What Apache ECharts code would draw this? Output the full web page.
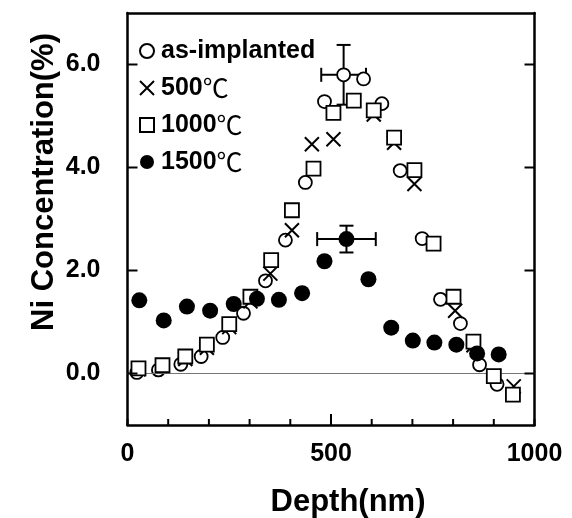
<!DOCTYPE html>
<html>
<head>
<meta charset="utf-8">
<script src="https://cdn.jsdelivr.net/npm/echarts@6/dist/echarts.min.js"></script>
<style>html,body{margin:0;padding:0;background:#fff}#chart{width:572px;height:518px}</style>
</head>
<body>
<div id="chart"></div>
<script>
// ---- data ----
const seriesNames = ['as-implanted', '500℃', '1000℃', '1500℃'];
const depthAsImpl = [23, 76, 131, 181, 234, 285, 339, 388, 437, 484, 531, 580, 625, 670, 724, 769, 818, 865, 908];
const concAsImpl  = [0.02, 0.07, 0.18, 0.33, 0.70, 1.17, 1.80, 2.59, 3.71, 5.28, 5.80, 5.72, 5.24, 3.94, 2.62, 1.44, 0.97, 0.17, -0.21];
const depth500 = [27, 86, 142, 195, 250, 302, 351, 404, 453, 506, 556, 605, 655, 705, 752, 805, 850, 900, 949];
const conc500  = [0.08, 0.14, 0.28, 0.50, 0.90, 1.40, 1.94, 2.78, 4.45, 4.55, 5.30, 5.03, 4.48, 3.68, 2.52, 1.22, 0.55, -0.05, -0.25];
const depth1000 = [27, 86, 142, 195, 250, 302, 353, 404, 457, 506, 556, 605, 655, 705, 752, 801, 850, 900, 947];
const conc1000  = [0.10, 0.16, 0.33, 0.56, 0.96, 1.49, 2.20, 3.17, 3.98, 5.06, 5.30, 5.11, 4.58, 3.95, 2.52, 1.49, 0.62, -0.05, -0.41];
const depth1500 = [29, 89, 146, 203, 261, 318, 372, 429, 484, 538, 592, 648, 701, 754, 808, 859, 912];
const conc1500  = [1.42, 1.03, 1.30, 1.22, 1.35, 1.45, 1.43, 1.56, 2.18, 2.61, 1.83, 0.89, 0.64, 0.60, 0.56, 0.39, 0.37];
// error bars: [depth, conc, depth error, conc error]
const errAsImpl = [531, 5.80, 55, 0.58];
const err1500   = [538, 2.61, 72, 0.26];
const xLabelValues = [0, 500, 1000];
const xTickValues = [0, 100, 200, 300, 400, 500, 600, 700, 800, 900, 1000];
const xMajorTickValues = [500];
const yTickValues = [0, 2, 4, 6];
const xRange = [0, 1000];
const yRange = [-1, 7];
const xLabelTitle = 'Depth(nm)';
const yLabelTitle = 'Ni Concentration(%)';

const FONT = '"Liberation Sans", Arial, Helvetica, "Noto Sans CJK JP", sans-serif';
const zip = (xs, ys) => xs.map((x, i) => [x, ys[i]]);

const chart = echarts.init(document.getElementById('chart'), null, {renderer: 'canvas'});

const tickSt = {stroke: '#000', lineWidth: 2};
const seg = (x1, y1, x2, y2, st) => ({type: 'line', shape: {x1, y1, x2, y2}, style: st});

function renderErr(params, api) {
  const x = api.value(0), y = api.value(1), dx = api.value(2), dy = api.value(3);
  const l = api.coord([x - dx, y]), r = api.coord([x + dx, y]);
  const t = api.coord([x, y + dy]), b = api.coord([x, y - dy]);
  const cap = 7;
  return {type: 'group', children: [
    seg(l[0], l[1], r[0], r[1], tickSt),
    seg(t[0], t[1], b[0], b[1], tickSt),
    seg(l[0], l[1] - cap, l[0], l[1] + cap, tickSt),
    seg(r[0], r[1] - cap, r[0], r[1] + cap, tickSt),
    seg(t[0] - cap, t[1], t[0] + cap, t[1], tickSt),
    seg(b[0] - cap, b[1], b[0] + cap, b[1], tickSt)
  ]};
}
// inward ticks on the left and right axes
function renderYTick(params, api) {
  const v = api.value(1);
  const pl = api.coord([xRange[0], v]), pr = api.coord([xRange[1], v]);
  return {type: 'group', children: [
    seg(pl[0], pl[1], pl[0] + 10, pl[1], tickSt),
    seg(pr[0], pr[1], pr[0] - 10, pr[1], tickSt)
  ]};
}

const crossPath = 'path://M0,0L10,10M10,0L0,10';

const axisFont = () => ({fontSize: 25, fontWeight: 'bold', color: '#000', fontFamily: FONT});
const frameLine = () => ({show: true, onZero: false, lineStyle: {color: '#000', width: 2.5}});

const titleGraphics = [
  {type: 'text', x: 44, y: 182, rotation: Math.PI / 2,
   style: {text: yLabelTitle, font: 'bold 31px ' + FONT, fill: '#000', align: 'center', verticalAlign: 'middle'}},
  {type: 'text', x: 348, y: 502,
   style: {text: xLabelTitle, font: 'bold 31px ' + FONT, fill: '#000', align: 'center', verticalAlign: 'middle'}}
];

chart.setOption({
  animation: false,
  grid: {left: 127.5, right: 37.5, top: 13, bottom: 93},
  legend: {
    orient: 'vertical', left: 139, top: 38, padding: 0,
    itemWidth: 14, itemHeight: 14, itemGap: 11,
    data: seriesNames,
    formatter: name => name.replace('℃', '{c|℃}'),
    textStyle: {fontSize: 25, fontWeight: 'bold', color: '#000', fontFamily: FONT, lineHeight: 26, padding: [0, 0, 0, 2],
      rich: {c: {fontSize: 26, fontWeight: 'normal', fontFamily: '"Noto Sans CJK JP", sans-serif', color: '#000', lineHeight: 26}}}
  },
  xAxis: [{
    type: 'value', min: xRange[0], max: xRange[1], interval: 100, position: 'bottom',
    axisLine: frameLine(),
    axisTick: {show: false},
    axisLabel: Object.assign({margin: 17, customValues: xLabelValues, formatter: v => String(v)}, axisFont()),
    splitLine: {show: false}
  }, {
    type: 'value', min: xRange[0], max: xRange[1], position: 'top',
    axisLine: frameLine(),
    axisTick: {show: false}, axisLabel: {show: false}, splitLine: {show: false}
  }],
  yAxis: [{
    type: 'value', min: yRange[0], max: yRange[1], interval: 1, position: 'left',
    axisLine: frameLine(),
    axisTick: {show: false},
    axisLabel: Object.assign({margin: 27, customValues: yTickValues, formatter: v => v.toFixed(1)}, axisFont()),
    splitLine: {show: false}
  }, {
    type: 'value', min: yRange[0], max: yRange[1], interval: 1, position: 'right',
    axisLine: frameLine(),
    axisTick: {show: false}, axisLabel: {show: false}, splitLine: {show: false}
  }],
  graphic: titleGraphics,
  series: [
    {
      type: 'scatter', name: 'zero', data: [], z: 1, symbolSize: 0,
      markLine: {silent: true, symbol: 'none', label: {show: false},
        lineStyle: {color: '#777', width: 1, type: 'solid'}, data: [{yAxis: 0}]}
    },
    {type: 'custom', name: 'yticks', renderItem: renderYTick, data: yTickValues.map(v => [xRange[0], v]), z: 7,
     encode: {x: 0, y: 1}, clip: false, silent: true},
    {type: 'custom', name: 'errA', renderItem: renderErr, data: [errAsImpl], z: 2, encode: {x: 0, y: 1}},
    {type: 'custom', name: 'errB', renderItem: renderErr, data: [err1500], z: 2, encode: {x: 0, y: 1}},
    {type: 'scatter', name: seriesNames[0], data: zip(depthAsImpl, concAsImpl), z: 3,
     symbol: 'circle', symbolSize: 13,
     itemStyle: {color: '#fff', borderColor: '#000', borderWidth: 1.8, opacity: 1}},
    {type: 'scatter', name: seriesNames[1], data: zip(depth500, conc500), z: 4,
     symbol: crossPath, symbolSize: 14,
     itemStyle: {color: 'rgba(0,0,0,0)', borderColor: '#000', borderWidth: 2, opacity: 1}},
    {type: 'scatter', name: seriesNames[2], data: zip(depth1000, conc1000), z: 5,
     symbol: 'rect', symbolSize: 14,
     itemStyle: {color: '#fff', borderColor: '#000', borderWidth: 1.8, opacity: 1}},
    {type: 'scatter', name: seriesNames[3], data: zip(depth1500, conc1500), z: 6,
     symbol: 'circle', symbolSize: 16,
     itemStyle: {color: '#000', opacity: 1}}
  ]
});

// inward ticks on the bottom axis, placed through the chart's own x scale
const xTickGraphics = xTickValues.map(v => {
  const p = chart.convertToPixel({xAxisIndex: 0, yAxisIndex: 0}, [v, yRange[0]]);
  const len = xMajorTickValues.indexOf(v) >= 0 ? 11 : 6;
  return {type: 'line', z: 100, silent: true,
    shape: {x1: p[0], y1: p[1], x2: p[0], y2: p[1] - len},
    style: {stroke: '#000', lineWidth: 2}};
});
chart.setOption({graphic: titleGraphics.concat(xTickGraphics)});
</script>
</body>
</html>
